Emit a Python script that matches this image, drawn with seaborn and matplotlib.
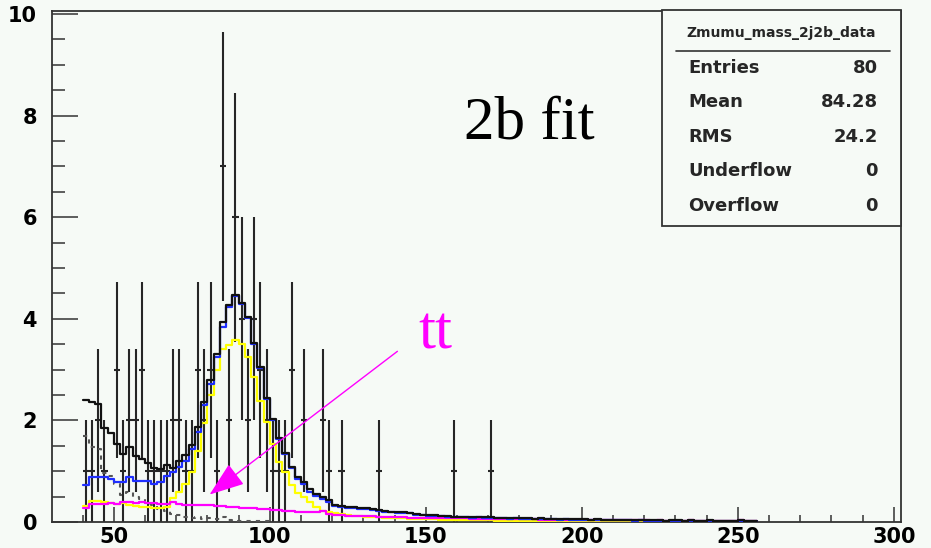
import numpy as np
import pandas as pd
import matplotlib
matplotlib.use("Agg")
import matplotlib.pyplot as plt
import seaborn as sns
from matplotlib.ticker import MultipleLocator
from matplotlib.patches import Rectangle
from matplotlib.lines import Line2D

# ---------------- data ----------------
bin_lo = 40
bin_w = 2

# MC total (black)
mc_total = [2.41, 2.36, 2.32, 1.85, 1.76, 1.54, 1.33, 1.48, 1.29, 1.25, 1.16, 1.07, 1.04, 1.13, 1.06, 1.21, 1.31, 1.51, 1.87, 2.36,
            2.79, 3.31, 3.94, 4.27, 4.46, 4.32, 4.04, 3.53, 3.05, 2.45, 2.03, 1.65, 1.35, 1.08, 0.89, 0.79, 0.64, 0.56, 0.49, 0.43,
            0.34, 0.32, 0.30, 0.29, 0.28, 0.27, 0.25, 0.24, 0.21, 0.20, 0.19, 0.19, 0.18, 0.15, 0.14, 0.13, 0.13, 0.12, 0.12, 0.10,
            0.10, 0.10, 0.09, 0.10, 0.09, 0.09, 0.08, 0.08, 0.07, 0.08, 0.07, 0.07, 0.06, 0.07, 0.06, 0.06, 0.05, 0.06, 0.05, 0.05,
            0.05, 0.04, 0.05, 0.04, 0.04, 0.04, 0.03, 0.04, 0.03, 0.04, 0.03, 0.03, 0.03, 0.02, 0.03, 0.03, 0.02, 0.03, 0.02, 0.02,
            0.03, 0.02, 0.02, 0.02, 0.02, 0.03, 0.02, 0.02]

# blue component
mc_blue = [0.72, 0.89, 0.89, 0.89, 0.85, 0.79, 0.79, 0.89, 0.80, 0.80, 0.80, 0.74, 0.79, 0.91, 0.99, 1.08, 1.21, 1.44, 1.78, 2.30,
           2.72, 3.25, 3.84, 4.23, 4.44, 4.30, 4.02, 3.51, 3.03, 2.43, 2.01, 1.63, 1.33, 1.06, 0.85, 0.74, 0.60, 0.52, 0.45, 0.40,
           0.32, 0.30, 0.28, 0.27, 0.26, 0.25, 0.23, 0.22, 0.20, 0.19, 0.18, 0.18, 0.17, 0.14, 0.13, 0.12, 0.12, 0.11, 0.10, 0.09,
           0.09, 0.09, 0.08, 0.09, 0.08, 0.08, 0.07, 0.07, 0.06, 0.07, 0.06, 0.06, 0.05, 0.06, 0.05, 0.05, 0.04, 0.05, 0.04, 0.04,
           0.04, 0.03, 0.04, 0.03, 0.03, 0.03, 0.03, 0.03, 0.02, 0.03, 0.02, 0.02, 0.02, 0.02, 0.02, 0.02, 0.02, 0.02, 0.02, 0.01,
           0.02, 0.01, 0.01, 0.01, 0.01, 0.02, 0.01, 0.01]

# yellow component (Z peak)
mc_yellow = [0.32, 0.42, 0.42, 0.40, 0.38, 0.36, 0.38, 0.34, 0.32, 0.30, 0.30, 0.28, 0.28, 0.30, 0.48, 0.60, 0.75, 0.98, 1.40, 1.95,
             2.50, 3.00, 3.40, 3.48, 3.58, 3.50, 3.25, 2.85, 2.38, 1.97, 1.54, 1.18, 0.98, 0.72, 0.58, 0.49, 0.40, 0.30, 0.22, 0.20,
             0.18, 0.16, 0.14, 0.12, 0.11, 0.10, 0.10, 0.09, 0.08, 0.08, 0.07, 0.07, 0.06, 0.06, 0.05, 0.05, 0.05, 0.04, 0.04, 0.04,
             0.04, 0.03, 0.03, 0.03, 0.03, 0.03, 0.02, 0.02, 0.02, 0.02, 0.02, 0.02, 0.02, 0.02, 0.02, 0.01, 0.01, 0.01, 0.01, 0.01,
             0.01, 0.01, 0.01, 0.01, 0.01, 0.01, 0.01, 0.01, 0.01, 0.01, 0.01, 0.01, 0.01, 0.01, 0.01, 0.01, 0.01, 0.01, 0.01, 0.01,
             0.01, 0.01, 0.01, 0.01, 0.01, 0.01, 0.01, 0.01]

# magenta component (tt)
mc_tt = [0.28, 0.36, 0.36, 0.36, 0.38, 0.36, 0.40, 0.40, 0.38, 0.40, 0.38, 0.38, 0.36, 0.36, 0.40, 0.36, 0.34, 0.34, 0.34, 0.33,
         0.33, 0.32, 0.31, 0.30, 0.30, 0.28, 0.28, 0.27, 0.26, 0.25, 0.24, 0.23, 0.22, 0.21, 0.20, 0.19, 0.19, 0.19, 0.22, 0.15,
         0.13, 0.13, 0.12, 0.12, 0.11, 0.11, 0.11, 0.10, 0.10, 0.09, 0.09, 0.09, 0.08, 0.08, 0.08, 0.08, 0.08, 0.07, 0.07, 0.07,
         0.07, 0.07, 0.06, 0.06, 0.06, 0.06, 0.06, 0.05, 0.05, 0.05, 0.05, 0.05, 0.05, 0.04, 0.04, 0.04, 0.04, 0.04, 0.04, 0.04,
         0.04, 0.03, 0.03, 0.03, 0.03, 0.03, 0.03, 0.03, 0.03, 0.03, 0.03, 0.02, 0.03, 0.02, 0.02, 0.02, 0.02, 0.03, 0.02, 0.02,
         0.02, 0.02, 0.02, 0.02, 0.02, 0.03, 0.02, 0.02]

# gray dashed component (low mass)
mc_dashed = [1.69, 1.47, 1.43, 0.96, 0.91, 0.75, 0.54, 0.59, 0.49, 0.45, 0.36, 0.33, 0.25, 0.22, 0.15, 0.13, 0.10, 0.07, 0.09, 0.06,
             0.07, 0.06, 0.10, 0.04, 0.02, 0.02, 0.02, 0.02, 0.02, 0.02]

# data (non-empty bins): bin centres and counts
data_x = [41, 43, 45, 47, 51, 53, 55, 57, 59, 61, 63, 65, 67, 69, 71, 73, 75, 77, 79, 81,
          83, 85, 87, 89, 91, 93, 95, 97, 99, 101, 103, 105, 107, 111, 117, 119, 123, 135, 159, 171]
data_n = [1, 1, 2, 1, 3, 1, 2, 2, 3, 1, 1, 1, 1, 2, 2, 1, 1, 3, 2, 3,
          1, 7, 2, 6, 4, 2, 4, 3, 2, 1, 1, 1, 3, 2, 2, 1, 1, 1, 1, 1]

x_ticks = [50, 100, 150, 200, 250, 300]
y_ticks = [0, 2, 4, 6, 8, 10]

stats_title = "Zmumu_mass_2j2b_data"
stats_labels = ["Entries", "Mean", "RMS", "Underflow", "Overflow"]
stats_values = ["80", "84.28", "24.2", "0", "0"]

# ---------------- style ----------------
sns.set_theme(style="ticks")
plt.rcParams['font.family'] = ['DejaVu Sans']

W, H = 931, 548
bg = "#f6faf6"
dark = "#333333"
fig = plt.figure(figsize=(W / 100, H / 100), dpi=100)
fig.patch.set_facecolor(bg)

ax_l, ax_r, ax_t, ax_b = 51.7, 901.0, 10.5, 522.0
ax = fig.add_axes([ax_l / W, 1 - ax_b / H, (ax_r - ax_l) / W, (ax_b - ax_t) / H])
ax.set_facecolor(bg)


def hist_step(vals, color, lw=1.6, ls="-", z=3):
    n = len(vals)
    edges = [float(e) for e in (bin_lo + bin_w * np.arange(n + 1))]
    centers = [e + bin_w / 2 for e in edges[:-1]]
    df = pd.DataFrame({"x": centers, "w": vals})
    sns.histplot(data=df, x="x", weights="w", bins=edges, element="step", fill=False,
                 color=color, linewidth=lw, linestyle=ls, ax=ax, zorder=z)


# data error bars
data_n_arr = np.array(data_n, dtype=float)
ax.errorbar(data_x, data_n_arr, yerr=np.sqrt(data_n_arr), xerr=bin_w / 2, fmt="none",
            ecolor="#262626", elinewidth=1.5, capsize=0, zorder=2)

hist_step(mc_dashed, "#555555", lw=1.5, ls=(0, (2, 2.5)), z=3)
hist_step(mc_yellow, "#ffff00", z=4)
hist_step(mc_tt, "#ff00ff", z=5)
hist_step(mc_blue, "#1f2fff", z=6)
hist_step(mc_total, "#111111", z=7)

ax.set_xlim(30.1, 302.3)
ax.set_ylim(0, 10.07)
ax.set_xlabel("")
ax.set_ylabel("")
ax.set_xticks(x_ticks)
ax.set_yticks(y_ticks)
ax.set_xticklabels([str(t) for t in x_ticks], fontsize=15, fontweight="bold")
ax.set_yticklabels([str(t) for t in y_ticks], fontsize=15, fontweight="bold")
ax.xaxis.set_minor_locator(MultipleLocator(10))
ax.yaxis.set_minor_locator(MultipleLocator(0.5))
ax.tick_params(axis="x", which="major", direction="in", length=10.8, width=1.1, color=dark, pad=3.5, labelcolor="black")
ax.tick_params(axis="x", which="minor", direction="in", length=5.0, width=1.1, color=dark)
ax.tick_params(axis="y", which="major", direction="in", length=18.7, width=1.1, color=dark, pad=10.5, labelcolor="black")
ax.tick_params(axis="y", which="minor", direction="in", length=9.4, width=1.1, color=dark)
for s in ax.spines.values():
    s.set_visible(True)
    s.set_color(dark)
    s.set_linewidth(1.3)

# annotations
ax.text(183.3, 7.84, "2b fit", fontsize=44, family="Liberation Serif", color="black",
        ha="center", va="center", zorder=8)
ax.text(153.2, 3.71, "tt", fontsize=44, family="Liberation Serif", color="#ff00ff",
        ha="center", va="center", zorder=8)
ax.annotate("", xy=(80.7, 0.54), xytext=(140.9, 3.36),
            arrowprops=dict(arrowstyle="-|>,head_length=1.1,head_width=0.4", color="#ff00ff",
                            lw=1.0, mutation_scale=20, shrinkA=0, shrinkB=0), zorder=8)


# stats box (pixel positions)
def fx(x):
    return x / W


def fy(y):
    return 1 - y / H


box_l, box_r, box_t, box_b = 662, 900.5, 10.5, 226
fig.patches.append(Rectangle((fx(box_l), fy(box_b)), fx(box_r) - fx(box_l), fy(box_t) - fy(box_b),
                             transform=fig.transFigure, facecolor=bg, edgecolor=dark, linewidth=1.3, zorder=10))
fig.text(fx(781), fy(33), stats_title, fontsize=10, fontweight="bold", ha="center", va="center", zorder=11)
fig.lines.append(Line2D([fx(676), fx(890)], [fy(51), fy(51)], transform=fig.transFigure,
                        color=dark, linewidth=1.2, zorder=11))
row_y = [68, 102, 137, 171, 206]
for lab, val, yy in zip(stats_labels, stats_values, row_y):
    fig.text(fx(688), fy(yy), lab, fontsize=13, fontweight="bold", ha="left", va="center", zorder=11)
    fig.text(fx(878), fy(yy), val, fontsize=13, fontweight="bold", ha="right", va="center", zorder=11)

fig.savefig("out.png", dpi=100, facecolor=bg)
